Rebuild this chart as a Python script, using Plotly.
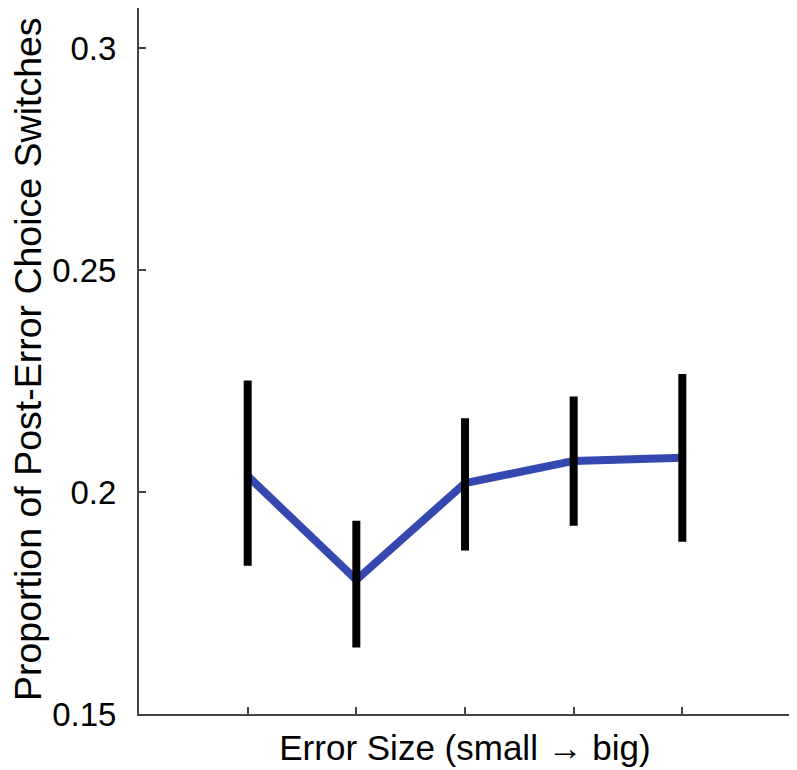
import plotly.graph_objects as go

error_size = [1, 2, 3, 4, 5]
switch_prop = [0.2036, 0.1802, 0.2020, 0.2070, 0.2077]
err_upper = [0.2251, 0.1935, 0.2166, 0.2215, 0.2266]
err_lower = [0.1834, 0.1650, 0.1868, 0.1924, 0.1888]
y_ticks = [0.15, 0.2, 0.25, 0.3]
y_tick_labels = ["0.15", "0.2", "0.25", "0.3"]
y_title = "Proportion of Post-Error Choice Switches"
x_title = "Error Size (small \u2192 big)"

plus = [u - m for u, m in zip(err_upper, switch_prop)]
minus = [m - l for m, l in zip(switch_prop, err_lower)]

fig = go.Figure()
fig.add_trace(go.Scatter(
    x=error_size, y=switch_prop, mode="lines",
    line=dict(color="#3548B0", width=8), showlegend=False, hoverinfo="skip"))
fig.add_trace(go.Scatter(
    x=error_size, y=switch_prop, mode="markers",
    marker=dict(size=0.1, color="rgba(0,0,0,0)"),
    error_y=dict(type="data", symmetric=False, array=plus, arrayminus=minus,
                 color="black", thickness=8, width=0),
    showlegend=False))

axis_color = "#444444"
fig.update_layout(
    width=789, height=762,
    margin=dict(l=131, r=6, t=0, b=56),
    paper_bgcolor="white", plot_bgcolor="white",
    font=dict(family="Liberation Sans, Arial, sans-serif", color="black"),
    xaxis=dict(range=[0, 6], tickvals=error_size, ticktext=["", "", "", "", ""],
               ticks="inside", ticklen=7, tickwidth=1.5, tickcolor=axis_color,
               showline=True, linecolor=axis_color, linewidth=2,
               showgrid=False, zeroline=False, automargin=False,
               title=dict(text=x_title, font=dict(size=35), standoff=18)),
    yaxis=dict(range=[0.15, 0.309], tickvals=y_ticks, ticktext=y_tick_labels,
               ticks="inside", ticklen=7, tickwidth=1.5, tickcolor=axis_color,
               showline=True, linecolor=axis_color, linewidth=2,
               showgrid=False, zeroline=False, tickfont=dict(size=33),
               ticklabelstandoff=14, automargin=False),
    annotations=[dict(text=y_title, textangle=-90, showarrow=False,
                      xref="paper", yref="paper", x=0, y=0.5,
                      xanchor="center", yanchor="middle",
                      xshift=-111, yshift=2,
                      font=dict(size=37.5, color="black"))],
)

fig.write_html("out.html")
